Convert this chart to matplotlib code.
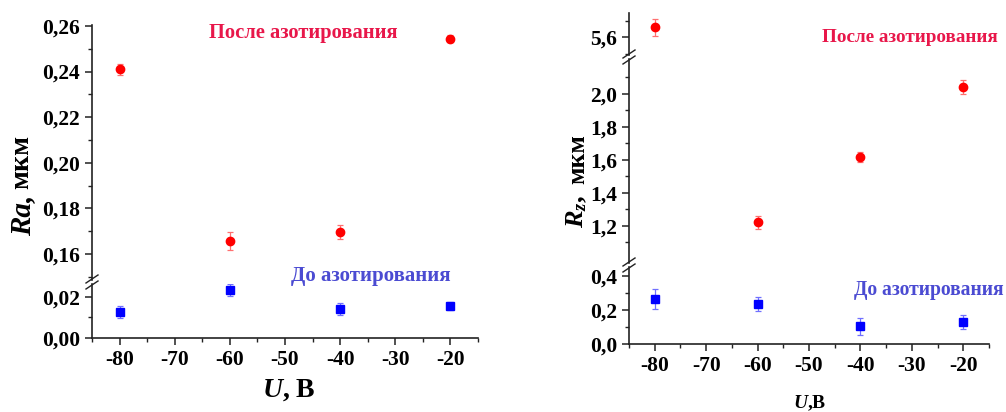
import matplotlib
matplotlib.use('Agg')
import matplotlib.pyplot as plt
from matplotlib.ticker import MultipleLocator, FixedLocator, FuncFormatter
from matplotlib.lines import Line2D

plt.rcParams['font.family'] = ['Liberation Serif', 'DejaVu Serif']
plt.rcParams['font.weight'] = 'bold'
plt.rcParams['mathtext.fontset'] = 'custom'
plt.rcParams['mathtext.it'] = 'Liberation Serif:italic:bold'
plt.rcParams['mathtext.rm'] = 'Liberation Serif:bold'

# data
U = [-80, -60, -40, -20]
ra_after = [0.241, 0.1658, 0.1695, 0.2543]
ra_after_err = [0.0025, 0.004, 0.003, 0.0015]
ra_before = [0.0127, 0.0233, 0.0143, 0.0155]
ra_before_err = [0.003, 0.003, 0.003, 0.002]
rz_after = [5.66, 1.22, 1.615, 2.04]
rz_after_err = [0.05, 0.04, 0.03, 0.04]
rz_before = [0.265, 0.235, 0.105, 0.13]
rz_before_err = [0.06, 0.04, 0.05, 0.04]

W, H = 1006, 412
fig = plt.figure(figsize=(W / 100, H / 100), dpi=100)

RED = '#ff0000'
BLUE = '#0000ff'
RED_TXT = '#e8174a'
BLUE_TXT = '#4b4bd2'


def pos(x0, x1, ytop, ybot):
    return [x0 / W, 1 - ybot / H, (x1 - x0) / W, (ybot - ytop) / H]


def comma(fmt):
    return FuncFormatter(lambda v, p: format(v, fmt).replace('.', ','))


def seg(rect, ylim, major, minor, fmt, bottom=False):
    ax = fig.add_axes(rect)
    ax.set_xlim(-85, -15)
    ax.set_ylim(*ylim)
    for s in ['top', 'right']:
        ax.spines[s].set_visible(False)
    for s in ['left', 'bottom']:
        ax.spines[s].set_linewidth(1.2)
        ax.spines[s].set_color('#222222')
    ax.yaxis.set_major_locator(FixedLocator(major))
    ax.yaxis.set_minor_locator(FixedLocator(minor))
    ax.yaxis.set_major_formatter(comma(fmt))
    ax.tick_params(axis='both', which='major', direction='out', length=5,
                   width=1.1, labelsize=15.5, color='#222222')
    ax.tick_params(axis='both', which='minor', direction='out', length=3,
                   width=1.0, color='#222222')
    if bottom:
        ax.xaxis.set_major_locator(MultipleLocator(10))
        ax.xaxis.set_minor_locator(MultipleLocator(5))
        ax.xaxis.set_major_formatter(FuncFormatter(lambda v, p: '%d' % v))
    else:
        ax.spines['bottom'].set_visible(False)
        ax.set_xticks([])
        ax.set_xticks([], minor=True)
    ax.patch.set_alpha(0)
    return ax


def draw(ax, y1, e1, y2, e2):
    ax.errorbar(U, y1, yerr=e1, fmt='o', color=RED, ms=6, ecolor='#ff7070',
                elinewidth=0.9, capsize=2.5, capthick=0.9, clip_on=True)
    ax.errorbar(U, y2, yerr=e2, fmt='s', color=BLUE, ms=5.5, ecolor='#7070ff',
                elinewidth=0.9, capsize=2.5, capthick=0.9, clip_on=True)


def brk(x, y):
    # "//" break mark across the left spine, pixel coords
    for dy in (-3, 3):
        fig.add_artist(Line2D([(x - 6) / W, (x + 6) / W],
                              [1 - (y + dy + 4) / H, 1 - (y + dy - 4) / H],
                              color='#222222', lw=1.0))


# left panel: Ra
ax_l1 = seg(pos(92, 478, 284, 338), (0, 0.02634), [0, 0.02], [0.01], '.2f', bottom=True)
ax_l2 = seg(pos(92, 478, 25, 280), (0.1486, 0.2604),
            [0.16, 0.18, 0.20, 0.22, 0.24, 0.26],
            [0.15, 0.17, 0.19, 0.21, 0.23, 0.25], '.2f')
for ax in (ax_l1, ax_l2):
    draw(ax, ra_after, ra_after_err, ra_before, ra_before_err)
brk(92, 282)

# right panel: Rz
ax_r1 = seg(pos(629, 989, 267, 344), (0, 0.453), [0, 0.2, 0.4], [0.1, 0.3], '.1f', bottom=True)
ax_r2 = seg(pos(629, 989, 59, 263), (0.974, 2.21),
            [1.2, 1.4, 1.6, 1.8, 2.0], [1.1, 1.3, 1.5, 1.7, 1.9, 2.1], '.1f')
ax_r3 = seg(pos(629, 989, 13, 55), (5.493, 5.747), [5.6], [5.5, 5.7], '.1f')
for ax in (ax_r1, ax_r2, ax_r3):
    draw(ax, rz_after, rz_after_err, rz_before, rz_before_err)
brk(629, 265)
brk(629, 57)

# annotations
fig.text(303 / W, 1 - 33 / H, 'После азотирования', color=RED_TXT, fontsize=14.8,
         ha='center', va='center')
fig.text(371 / W, 1 - 276 / H, 'До азотирования', color=BLUE_TXT, fontsize=15,
         ha='center', va='center')
fig.text(910 / W, 1 - 37 / H, 'После азотирования', color=RED_TXT, fontsize=13.8,
         ha='center', va='center')
fig.text(929 / W, 1 - 290 / H, 'До азотирования', color=BLUE_TXT, fontsize=14.1,
         ha='center', va='center')

# axis labels
fig.text(23 / W, 1 - 236 / H, 'Ra,', fontsize=21, fontstyle='italic', rotation=90,
         rotation_mode='anchor', ha='left', va='center')
fig.text(22 / W, 1 - 189 / H, 'мкм', fontsize=20, rotation=90,
         rotation_mode='anchor', ha='left', va='center')
fig.text(289 / W, 1 - 390 / H, r'$U$, В', fontsize=20, ha='center', va='center')

fig.text(577 / W, 1 - 228 / H, r'$R_z$,', fontsize=19, rotation=90,
         rotation_mode='anchor', ha='left', va='center')
fig.text(578 / W, 1 - 184 / H, 'мкм', fontsize=18.5, rotation=90,
         rotation_mode='anchor', ha='left', va='center')
fig.text(810 / W, 1 - 408 / H, r'$U$,В', fontsize=14, ha='center', va='baseline')

fig.savefig('out.png', dpi=100)
